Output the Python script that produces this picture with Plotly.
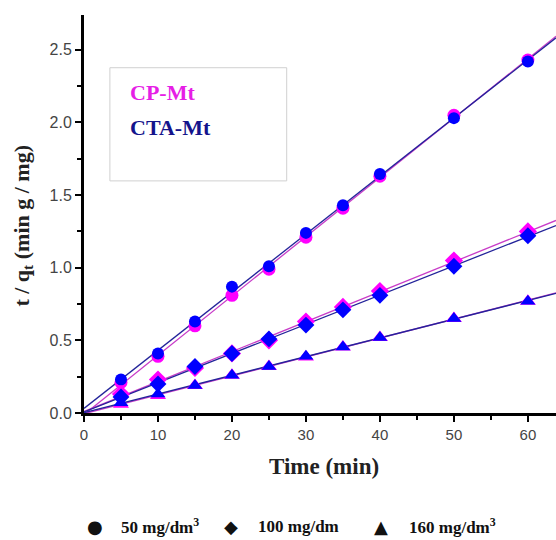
import numpy as np
import plotly.graph_objects as go

t = [5, 10, 15, 20, 25, 30, 35, 40, 50, 60]

cp_50 = [0.21, 0.39, 0.60, 0.81, 0.99, 1.21, 1.41, 1.63, 2.05, 2.43]
cta_50 = [0.23, 0.41, 0.63, 0.87, 1.01, 1.24, 1.43, 1.645, 2.03, 2.42]
cp_100 = [0.13, 0.23, 0.31, 0.41, 0.50, 0.63, 0.73, 0.84, 1.05, 1.25]
cta_100 = [0.11, 0.20, 0.32, 0.41, 0.51, 0.605, 0.71, 0.81, 1.01, 1.22]
cp_160 = [0.06, 0.12, 0.19, 0.26, 0.32, 0.385, 0.455, 0.52, 0.65, 0.77]
cta_160 = [0.07, 0.13, 0.19, 0.26, 0.32, 0.39, 0.455, 0.52, 0.65, 0.77]

x_ticks = [0, 10, 20, 30, 40, 50, 60]
y_ticks = [0.0, 0.5, 1.0, 1.5, 2.0, 2.5]

CP_COLOR = "#ff00ff"
CTA_COLOR = "#0000ff"
CP_LINE = "#c83cc8"
CTA_LINE = "#23239a"

XMAX = 63.8
YMAX = 2.74

fig = go.Figure()

series = [
    (cp_50, cta_50, "circle", 12),
    (cp_100, cta_100, "diamond", 13),
    (cp_160, cta_160, "triangle-up", 13),
]

xfit = np.array([0, XMAX])
# fit lines
for cp, cta, sym, sz in series:
    for vals, col in ((cp, CP_LINE), (cta, CTA_LINE)):
        k, b = np.polyfit(t, vals, 1)
        fig.add_trace(go.Scatter(x=xfit, y=k * xfit + b, mode="lines",
                                 line=dict(color=col, width=1.3),
                                 showlegend=False, hoverinfo="skip"))
# markers
for cp, cta, sym, sz in series:
    fig.add_trace(go.Scatter(x=t, y=cp, mode="markers",
                             marker=dict(symbol=sym, size=sz + 1, color=CP_COLOR),
                             showlegend=False))
    fig.add_trace(go.Scatter(x=t, y=cta, mode="markers",
                             marker=dict(symbol=sym, size=sz, color=CTA_COLOR),
                             showlegend=False))

# legend box
fig.add_shape(type="rect", xref="x", yref="y", x0=3.5, x1=27.4, y0=1.598, y1=2.377,
              line=dict(color="#d0d0d0", width=1), fillcolor="rgba(0,0,0,0)")
fig.add_annotation(x=6.0, y=2.205, xref="x", yref="y", text="<b>CP-Mt</b>",
                   showarrow=False, xanchor="left", yanchor="middle",
                   font=dict(family="Liberation Serif", size=22, color="#e61ee6"))
fig.add_annotation(x=6.0, y=1.963, xref="x", yref="y", text="<b>CTA-Mt</b>",
                   showarrow=False, xanchor="left", yanchor="middle",
                   font=dict(family="Liberation Serif", size=22, color="#14148c"))

# axis titles
fig.add_annotation(x=-0.13, y=0.47, xref="paper", yref="paper",
                   text="<b>t / q<sub>t</sub> (min g / mg)</b>", textangle=-90,
                   showarrow=False, xanchor="center", yanchor="middle",
                   font=dict(family="Liberation Serif", size=22, color="#222"))
fig.add_annotation(x=0.508, y=-0.134, xref="paper", yref="paper",
                   text="<b>Time (min)</b>",
                   showarrow=False, xanchor="center", yanchor="middle",
                   font=dict(family="Liberation Serif", size=23, color="#222"))

# bottom legend
PW = 472.0
PH = 397.7
def px(xp):
    return (xp - 84) / PW
leg_y = (412.7 - 526) / PH

sym_font = dict(family="DejaVu Sans", size=18, color="#111")
txt_font = dict(family="Liberation Serif", size=17, color="#111")
for sx, s, tx, label in [
    (95, "\u25cf", 119, "<b>50 mg/dm<sup>3</sup></b>"),
    (231, "\u25c6", 256, "<b>100 mg/dm</b>"),
    (381, "\u25b2", 407, "<b>160 mg/dm<sup>3</sup></b>"),
]:
    fig.add_annotation(x=px(sx), y=leg_y, xref="paper", yref="paper", text=s,
                       showarrow=False, xanchor="center", yanchor="middle", font=sym_font)
    fig.add_annotation(x=px(tx), y=leg_y, xref="paper", yref="paper", text=label,
                       showarrow=False, xanchor="left", yanchor="middle", font=txt_font)

fig.update_layout(
    width=556, height=540,
    margin=dict(l=84, r=0, t=15, b=127),
    paper_bgcolor="white", plot_bgcolor="white",
    showlegend=False,
    xaxis=dict(range=[0, XMAX], tickvals=x_ticks, ticktext=[str(v) for v in x_ticks],
               showgrid=False, zeroline=False, showline=True, linecolor="black",
               linewidth=3, ticks="outside", ticklen=6, tickwidth=2, tickcolor="black",
               tickfont=dict(family="Liberation Sans", size=15, color="#444"),
               minor=dict(dtick=5, tick0=0, ticks="outside", ticklen=4, tickwidth=2,
                          tickcolor="black", showgrid=False)),
    yaxis=dict(range=[0, YMAX], tickvals=y_ticks, ticktext=["%.1f" % v for v in y_ticks],
               showgrid=False, zeroline=False, showline=True, linecolor="black",
               linewidth=3, ticks="outside", ticklen=6, tickwidth=2, tickcolor="black",
               tickfont=dict(family="Liberation Sans", size=16, color="#444"),
               minor=dict(dtick=0.25, tick0=0, ticks="outside", ticklen=4, tickwidth=2,
                          tickcolor="black", showgrid=False)),
)

fig.write_html("out.html")
